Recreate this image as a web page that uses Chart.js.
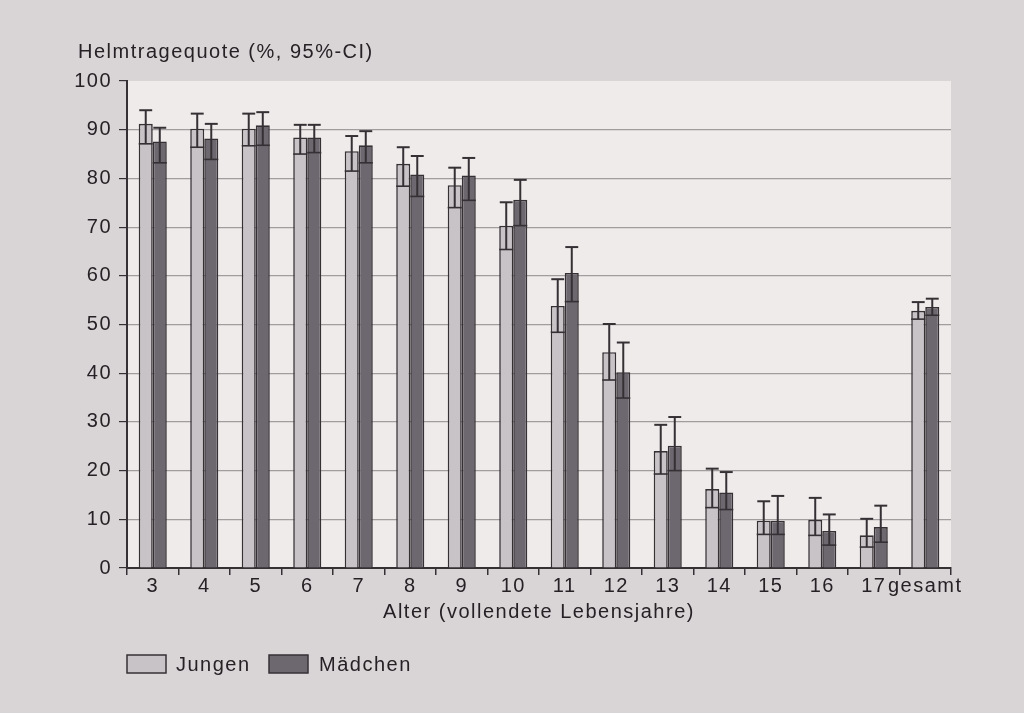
<!DOCTYPE html>
<html>
<head>
<meta charset="utf-8">
<script src="https://cdn.jsdelivr.net/npm/chart.js@4.4.1/dist/chart.umd.min.js"></script>
<style>
  html, body { margin: 0; padding: 0; background: #d9d5d7; }
  #wrap { position: relative; width: 1024px; height: 713px; }
  canvas { display: block; }
</style>
</head>
<body>
<div id="wrap"><canvas id="c" width="1024" height="713"></canvas></div>
<script>
const categories = ['3','4','5','6','7','8','9','10','11','12','13','14','15','16','17','gesamt'];
const jungen     = [91.2, 90.2, 90.2, 88.4, 85.6, 83.0, 78.6, 70.3, 53.8, 44.3, 24.0, 16.2,  9.7,  9.9,  6.7, 52.8];
const jungenLo   = [87.1, 86.4, 86.7, 85.0, 81.5, 78.4, 74.0, 65.4, 48.4, 38.6, 19.3, 12.4,  6.9,  6.7,  4.3, 51.1];
const jungenHi   = [94.0, 93.3, 93.3, 91.0, 88.7, 86.4, 82.2, 75.1, 59.3, 50.1, 29.4, 20.4, 13.7, 14.4, 10.1, 54.6];
const maedchen   = [87.6, 88.2, 90.9, 88.4, 86.8, 80.8, 80.6, 75.6, 60.6, 40.2, 25.1, 15.5,  9.7,  7.6,  8.4, 53.6];
const maedchenLo = [83.2, 83.9, 86.8, 85.3, 83.2, 76.3, 75.5, 70.3, 54.7, 34.9, 20.0, 12.0,  6.9,  4.7,  5.3, 51.9];
const maedchenHi = [90.4, 91.2, 93.6, 91.0, 89.7, 84.6, 84.2, 79.7, 65.9, 46.3, 31.0, 19.7, 14.8, 11.0, 12.8, 55.3];
const yMin = 0, yMax = 100, yStep = 10;
const yTitle = 'Helmtragequote (%, 95%-CI)';
const xTitle = 'Alter (vollendete Lebensjahre)';
const seriesNames = ['Jungen', 'Mädchen'];

const TEXT = '#252125';
const EDGE = '#353034';
const FONT = "'Liberation Sans', Arial, sans-serif";
const FS = 20;
const LS = '1.5px';

const ciLo = [jungenLo, maedchenLo];
const ciHi = [jungenHi, maedchenHi];

const spacingPlugin = {
  id: 'spacing',
  beforeLayout(chart) { chart.ctx.letterSpacing = LS; },
  beforeDraw(chart) { chart.ctx.letterSpacing = LS; },
};

const bgPlugin = {
  id: 'plotbg',
  beforeDraw(chart) {
    const {ctx, chartArea: a} = chart;
    ctx.save();
    ctx.fillStyle = '#efebea';
    ctx.fillRect(a.left, a.top, a.right - a.left, a.bottom - a.top);
    ctx.restore();
  }
};

const errPlugin = {
  id: 'errbars',
  afterDatasetsDraw(chart) {
    const {ctx} = chart;
    const ys = chart.scales.y;
    ctx.save();
    ctx.strokeStyle = EDGE;
    chart.data.datasets.forEach((ds, i) => {
      const meta = chart.getDatasetMeta(i);
      meta.data.forEach((el, j) => {
        const x = el.x, w = el.width;
        const yl = ys.getPixelForValue(ciLo[i][j]);
        const yh = ys.getPixelForValue(ciHi[i][j]);
        ctx.lineWidth = 2;
        ctx.beginPath();
        ctx.moveTo(x, yl); ctx.lineTo(x, yh);
        ctx.stroke();
        ctx.beginPath();
        ctx.moveTo(x - w * 0.46, yh); ctx.lineTo(x + w * 0.46, yh);
        ctx.stroke();
        ctx.lineWidth = 1.6;
        ctx.beginPath();
        ctx.moveTo(x - w / 2, yl); ctx.lineTo(x + w / 2, yl);
        ctx.stroke();
      });
    });
    ctx.restore();
  }
};

const textPlugin = {
  id: 'texts',
  afterDraw(chart) {
    const {ctx} = chart;
    ctx.save();
    ctx.letterSpacing = LS;
    ctx.font = `${FS}px ${FONT}`;
    ctx.fillStyle = TEXT;
    ctx.textBaseline = 'middle';
    ctx.textAlign = 'left';
    ctx.fillText(yTitle, 78, 52);
    const items = [
      {box: 127, text: 176},
      {box: 269, text: 319},
    ];
    chart.data.datasets.forEach((ds, i) => {
      const it = items[i];
      ctx.fillStyle = ds.backgroundColor;
      ctx.fillRect(it.box, 655, 39, 18);
      ctx.strokeStyle = EDGE;
      ctx.lineWidth = 1.5;
      ctx.strokeRect(it.box, 655, 39, 18);
      ctx.fillStyle = TEXT;
      ctx.fillText(ds.label, it.text, 665);
    });
    ctx.restore();
  }
};

new Chart(document.getElementById('c'), {
  type: 'bar',
  data: {
    labels: categories,
    datasets: [
      { label: seriesNames[0], data: jungen, backgroundColor: '#c8c3c7', borderColor: EDGE, borderWidth: 1.6 },
      { label: seriesNames[1], data: maedchen, backgroundColor: '#6d6870', borderColor: EDGE, borderWidth: 1.6 },
    ]
  },
  options: {
    responsive: false,
    animation: false,
    events: [],
    layout: { padding: { left: 0, right: 73, top: 81, bottom: 0 } },
    datasets: { bar: { categoryPercentage: 0.545, barPercentage: 1.0 } },
    plugins: { legend: { display: false }, tooltip: { enabled: false }, title: { display: false } },
    scales: {
      x: {
        offset: true,
        afterFit(s) { s.height = 145; },
        grid: { offset: true, drawOnChartArea: false, drawTicks: true, tickLength: 7, color: EDGE, lineWidth: 1.5 },
        border: { display: true, color: EDGE, width: 2 },
        ticks: { color: TEXT, font: { family: FONT, size: FS }, padding: -1, maxRotation: 0, autoSkip: false },
        title: { display: true, text: xTitle, color: TEXT, font: { family: FONT, size: FS }, padding: { top: 0, bottom: 89 } }
      },
      y: {
        min: yMin, max: yMax,
        afterFit(s) { s.width = 127; },
        ticks: { stepSize: yStep, color: TEXT, font: { family: FONT, size: FS }, padding: 7 },
        grid: {
          drawTicks: true, tickLength: 8,
          color: (c) => (c.tick && c.tick.value === yMax) ? 'rgba(0,0,0,0)' : '#a29c9e',
          tickColor: EDGE,
          lineWidth: 1.2
        },
        border: { display: true, color: EDGE, width: 2 }
      }
    }
  },
  plugins: [spacingPlugin, bgPlugin, errPlugin, textPlugin]
});
</script>
</body>
</html>
